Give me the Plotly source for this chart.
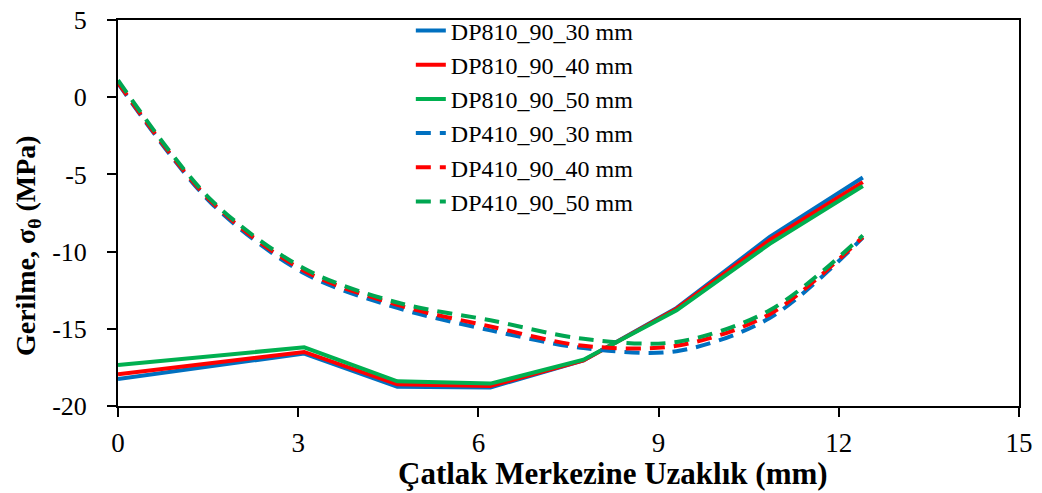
import plotly.graph_objects as go

x_vals = [0, 1.55, 3.1, 4.65, 6.2, 7.75, 9.3, 10.85, 12.4]

dp810_30 = [-18.25, -17.45, -16.6, -18.75, -18.8, -17.05, -13.65, -9.05, -5.2]
dp810_40 = [-17.95, -17.2, -16.5, -18.6, -18.7, -17.05, -13.7, -9.25, -5.5]
dp810_50 = [-17.35, -16.75, -16.2, -18.4, -18.55, -17.0, -13.8, -9.5, -5.75]

dp410_30 = [0.9, -6.85, -11.4, -13.65, -15.1, -16.25, -16.45, -14.3, -9.1]
dp410_40 = [0.95, -6.75, -11.25, -13.45, -14.85, -16.1, -16.1, -14.05, -9.05]
dp410_50 = [1.1, -6.65, -11.1, -13.3, -14.45, -15.65, -15.85, -13.8, -8.95]

series_names = ["DP810_90_30 mm", "DP810_90_40 mm", "DP810_90_50 mm",
                "DP410_90_30 mm", "DP410_90_40 mm", "DP410_90_50 mm"]
series_values = [dp810_30, dp810_40, dp810_50, dp410_30, dp410_40, dp410_50]
colors = ["#0070C0", "#FF0000", "#00B050", "#0070C0", "#FF0000", "#00A651"]
dashed = [False, False, False, True, True, True]

x_ticks = [0, 3, 6, 9, 12, 15]
y_ticks = [5, 0, -5, -10, -15, -20]

x_title = "<b>Çatlak Merkezine Uzaklık (mm)</b>"
y_title = "<b>Gerilme, σ<sub>θ</sub> (MPa)</b>"

fig = go.Figure()
for name, vals, col, d in zip(series_names, series_values, colors, dashed):
    fig.add_trace(go.Scatter(
        x=x_vals, y=vals, name=name, mode="lines",
        line=dict(color=col, width=4,
                  dash="15px,9px" if d else "solid",
                  shape="spline" if d else "linear",
                  smoothing=0.9 if d else None),
    ))

ff = "Liberation Serif"
fig.update_layout(
    width=1042, height=493,
    margin=dict(l=110, r=31, t=12, b=95, autoexpand=False),
    paper_bgcolor="white", plot_bgcolor="white",
    font=dict(family=ff, color="black", size=26),
    showlegend=True,
    legend=dict(x=0.325, y=1.03, xanchor="left", yanchor="top",
                bgcolor="rgba(0,0,0,0)", font=dict(size=24, family=ff, color="black"),
                tracegroupgap=0, itemwidth=30),
    xaxis=dict(
        range=[0, 15], tickvals=x_ticks, ticktext=[str(v) for v in x_ticks],
        showgrid=False, zeroline=False, showline=True, linecolor="black", linewidth=2,
        mirror=True, ticks="outside", ticklen=9, tickwidth=2, tickcolor="black",
        tickfont=dict(size=27, family=ff, color="black"), automargin=False,
        ticklabelstandoff=3, ticklabeloverflow="allow",
    ),
    yaxis=dict(
        range=[-20, 5], tickvals=y_ticks, ticktext=[str(v) for v in y_ticks],
        showgrid=False, zeroline=False, showline=True, linecolor="black", linewidth=2,
        mirror=True, ticks="outside", ticklen=9, tickwidth=2, tickcolor="black",
        tickfont=dict(size=26, family=ff, color="black"), automargin=False,
        ticklabelstandoff=15, ticklabeloverflow="allow",
    ),
    annotations=[
        dict(text=x_title, xref="paper", yref="paper", x=0.549, y=-0.176,
             xanchor="center", yanchor="middle", showarrow=False,
             font=dict(size=31, family=ff, color="black")),
        dict(text=y_title, xref="paper", yref="paper", x=-0.101, y=0.417,
             xanchor="center", yanchor="middle", showarrow=False, textangle=-90,
             font=dict(size=28, family=ff, color="black")),
    ],
)

fig.write_html("out.html")
